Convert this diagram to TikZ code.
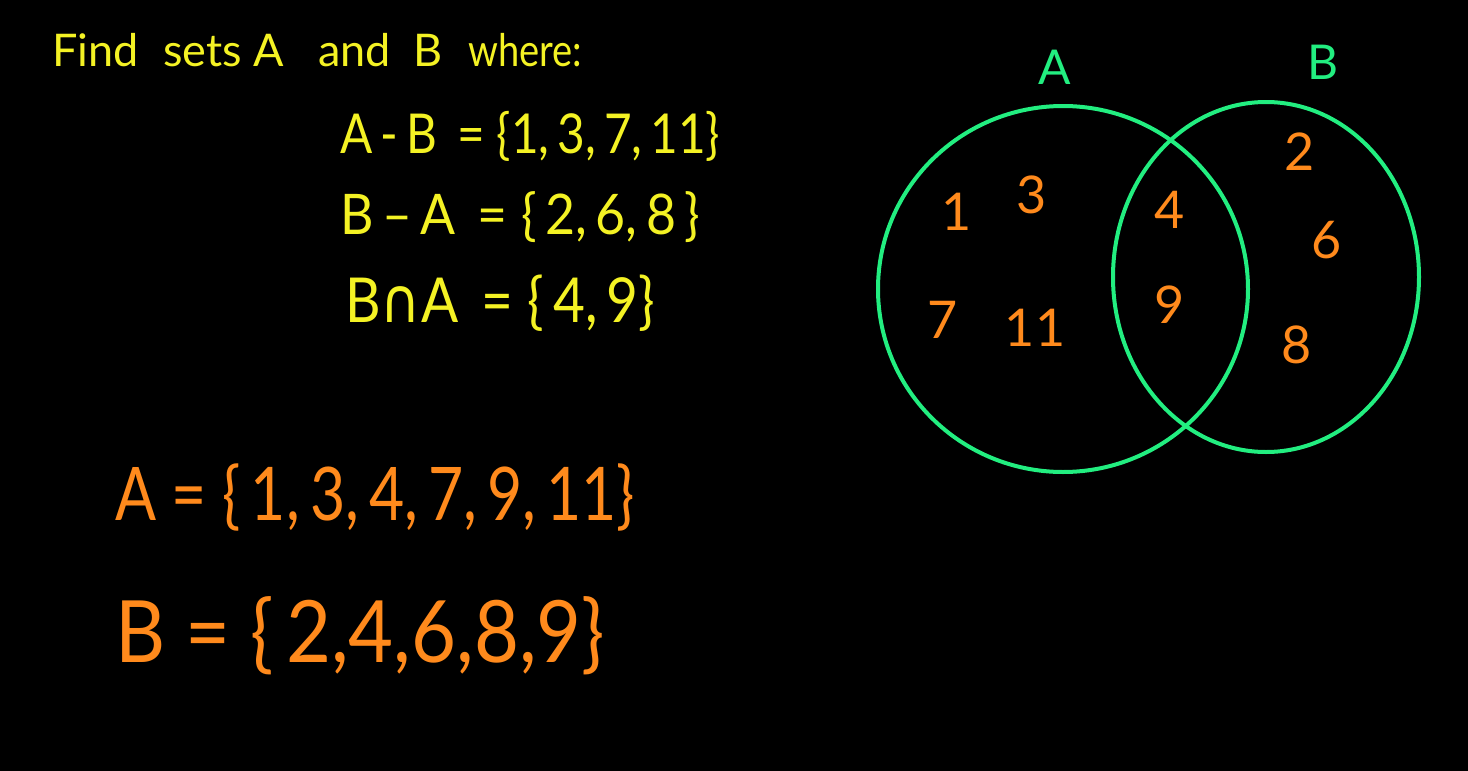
\documentclass[tikz,border=0pt]{standalone}
\usepackage{fontspec}
\usepackage{graphicx}
\setmainfont{Lato}
\newfontfamily\dvfont{DejaVu Sans}
\newcommand\fitw[2]{\resizebox{#1}{\height}{#2}}
\definecolor{hy}{HTML}{F4F224}
\definecolor{ho}{HTML}{FF8A1C}
\definecolor{hg}{HTML}{22EE80}
\begin{document}
\begin{tikzpicture}[x=1pt,y=-1pt,
  ytext/.style={text=hy,inner sep=0pt,anchor=base west},
  tword/.style={ytext,font=\fontsize{45}{50}\selectfont},
  otext/.style={text=ho,inner sep=0pt,anchor=base west},
  num/.style={text=ho,inner sep=0pt,font=\fontsize{52}{60}\selectfont},
  glabel/.style={text=hg,inner sep=0pt,font=\fontsize{48}{56}\selectfont},
  setcircle/.style={draw=hg,line width=4pt}]
\fill[black] (0,0) rectangle (1468,771);
\useasboundingbox (0,0) rectangle (1468,771);
% title, word by word
\node[tword] (t1) at (52,66) {Find};
\node[tword] (t2) at (163,66) {sets};
\node[tword] (t3) at (253,66) {A};
\node[tword] (t4) at (318,66) {and};
\node[tword] (t5) at (413,66) {B};
\node[tword] (t6) at (468,66) {\fitw{114pt}{where:}};
% equations
\node[ytext,font=\fontsize{55}{64}\selectfont] (l1) at (340,153) {\fitw{380pt}{A\,-\,B\, = \{1,\,3,\,7,\,11\}}};
\node[ytext,font=\fontsize{56}{64}\selectfont] (l2) at (340,234) {\fitw{360pt}{B\,–\,A\, = \{\,2,\,6,\,8\,\}}};
\node[ytext,font=\fontsize{62}{68}\selectfont] (l3) at (345,322) {\fitw{310pt}{B{\dvfont ∩}A\, = \{\,4,\,9\}}};
\node[otext,font=\fontsize{74}{80}\selectfont] (sa) at (115,520) {\fitw{520pt}{A = \{\,1,\,3,\,4,\,7,\,9,\,11\}}};
\node[otext,font=\fontsize{86}{92}\selectfont] (sb) at (115,662) {\fitw{490pt}{B = \{\,2,4,6,8,9\}}};
% venn
\draw[setcircle] (1063,289) ellipse [x radius=185, y radius=183];
\draw[setcircle] (1266,277) ellipse [x radius=153, y radius=175];
\node[glabel] (la) at (1055,67) {A};
\node[glabel] (lb) at (1323,62) {B};
\node[num] (n1) at (957,212) {1};
\node[num] (n3) at (1032,195) {3};
\node[num] (n4) at (1170,210) {4};
\node[num] (n2) at (1300,152) {2};
\node[num] (n6) at (1327,240) {6};
\node[num] (n7) at (943,320) {7};
\node[num] (n11) at (1035,328) {11};
\node[num] (n9) at (1170,305) {9};
\node[num] (n8) at (1297,345) {8};
\end{tikzpicture}
\end{document}
